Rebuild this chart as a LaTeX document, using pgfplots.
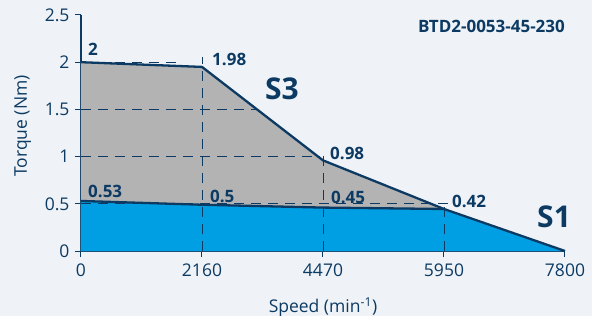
\documentclass[border=0pt]{standalone}
\usepackage{fontspec}
\setmainfont{Open Sans}
\usepackage{pgfplots}
\pgfplotsset{compat=1.18}
\definecolor{navy}{HTML}{0C3A63}
\definecolor{bgc}{HTML}{EFF3F7}
\definecolor{grayf}{HTML}{B3B3B3}
\definecolor{bluef}{HTML}{009FE3}
\begin{document}
\begin{tikzpicture}
\fill[bgc] (-81bp,-65bp) rectangle (511bp,251bp);
\begin{axis}[
 at={(0,0)}, anchor=south west,
 width=484bp, height=236bp, scale only axis,
 xmin=0, xmax=4, ymin=0, ymax=2.5,
 axis lines*=left,
 axis line style={navy, line width=1.3bp},
 xtick={0,1,2,3,4}, xticklabels={0,2160,4470,5950,7800},
 ytick={0,0.5,1,1.5,2,2.5}, yticklabels={0,0.5,1,1.5,2,2.5},
 tick align=outside, tick style={navy, line width=1bp}, major tick length=6bp,
 tick label style={font=\fontsize{17.5bp}{20bp}\selectfont, text=navy},
 xticklabel style={yshift=-3bp},
 yticklabel style={xshift=-2bp},
 label style={font=\fontsize{17.5bp}{20bp}\selectfont, text=navy, inner sep=0pt},
 xlabel={Speed (min\textsuperscript{-1})},
 ylabel={Torque (Nm)},
 xlabel style={at={(axis description cs:0.5,-0.2627)}, anchor=base},
 ylabel style={at={(axis description cs:-0.1116,0.53)}, anchor=base},
 clip=false,
 every axis plot/.append style={line join=round},
]
% fills
\addplot[fill=grayf, draw=none] coordinates {(0,2.0) (1,1.95) (2,0.96) (3,0.445) (4,0)} \closedcycle;
\addplot[fill=bluef, draw=none] coordinates {(0,0.53) (1,0.49) (2,0.46) (3,0.445) (4,0)} \closedcycle;
% dashed guides
\pgfplotsset{guide/.style={navy, line width=0.9bp, dash pattern=on 10bp off 7bp}}
\addplot[guide] coordinates {(0,2) (0.8,2)};
\addplot[guide] coordinates {(0,1.5) (1.45,1.5)};
\addplot[guide] coordinates {(0,1) (1.97,1)};
\addplot[guide] coordinates {(0,0.5) (3.03,0.5)};
\addplot[guide] coordinates {(1,0) (1,2.06)};
\addplot[guide] coordinates {(2,0) (2,1.04)};
\addplot[guide] coordinates {(3,0) (3,0.53)};
% curves
\addplot[navy, line width=2.3bp] coordinates {(0,2.0) (1,1.95) (2,0.96) (3,0.445) (4,0)};
\addplot[navy, line width=2.3bp] coordinates {(0,0.53) (1,0.49) (2,0.46) (3,0.445)};
% labels
\tikzset{vl/.style={anchor=base west, inner sep=0pt, text=navy, font=\fontsize{17bp}{20bp}\selectfont\bfseries}}
\node[vl] at (axis cs:0.058,2.076) {2};
\node[vl] at (axis cs:1.083,1.96) {1.98};
\node[vl] at (axis cs:2.058,0.964) {0.98};
\node[vl] at (axis cs:0.058,0.572) {0.53};
\node[vl] at (axis cs:1.066,0.519) {0.5};
\node[vl] at (axis cs:2.066,0.508) {0.45};
\node[vl] at (axis cs:3.066,0.466) {0.42};
\node[vl, font=\fontsize{30bp}{34bp}\selectfont\bfseries] at (axis cs:1.52,1.6) {S3};
\node[vl, font=\fontsize{30bp}{34bp}\selectfont\bfseries] at (axis cs:3.769,0.254) {S1};
\node[vl, anchor=base east] at (axis cs:4,2.31) {BTD2-0053-45-230};
\end{axis}
\pgfresetboundingbox
\path[use as bounding box] (-81bp,-65bp) rectangle (511bp,251bp);
\end{tikzpicture}
\end{document}
